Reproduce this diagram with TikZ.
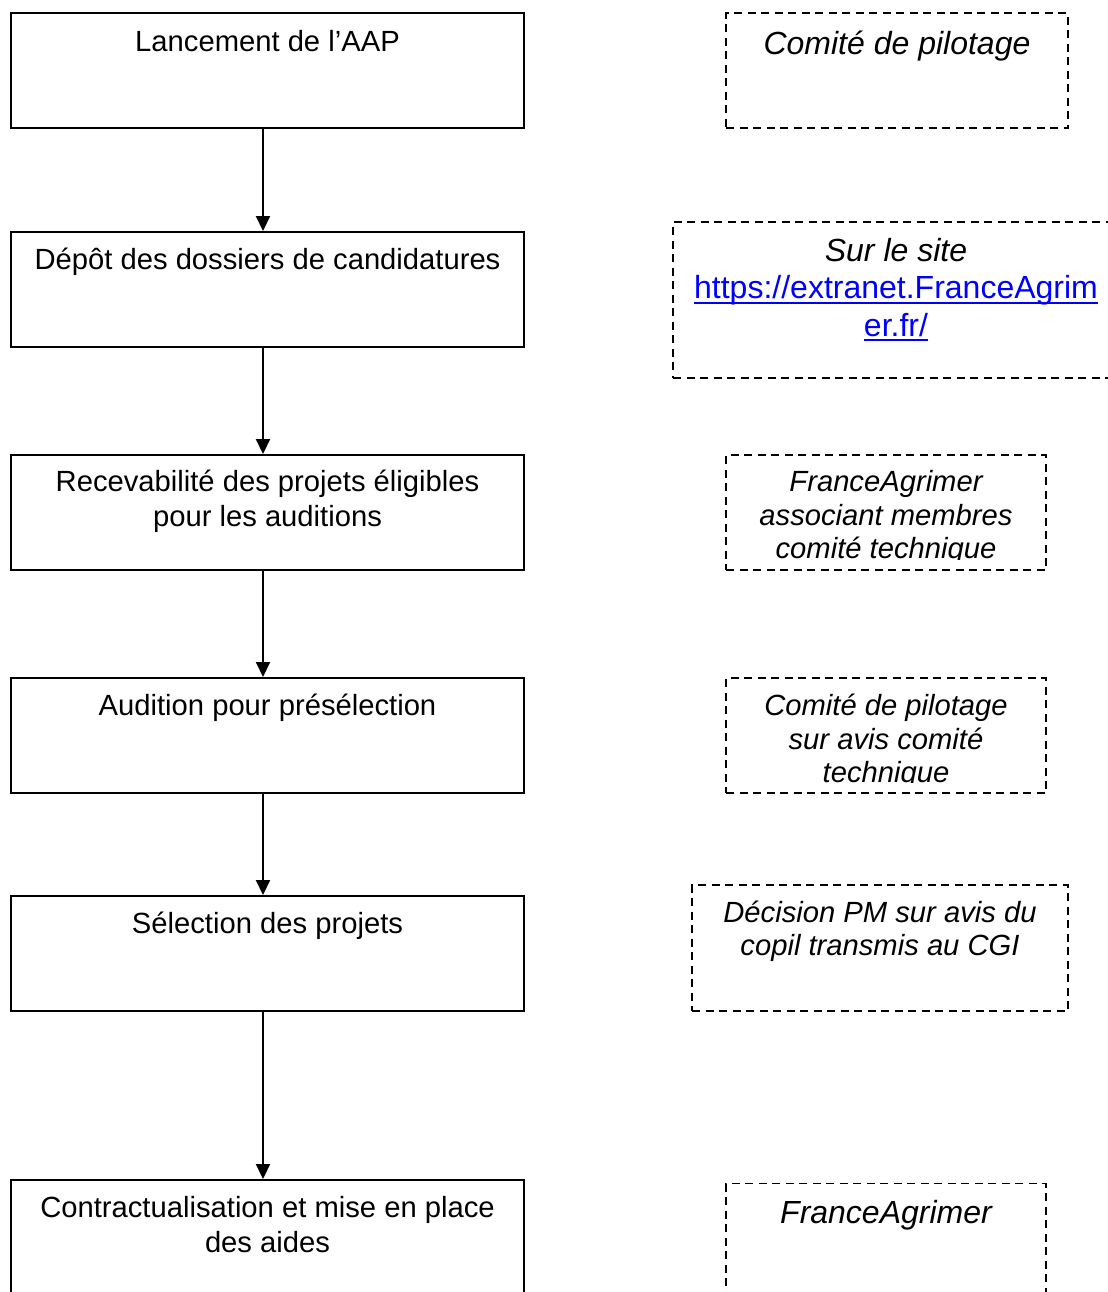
\documentclass[tikz,border=0pt]{standalone}
\usepackage{fontspec}
\setmainfont{Liberation Sans}
\usetikzlibrary{arrows.meta}
\newcommand{\linkul}[1]{\setbox0\hbox{#1}\rlap{\rule[-2.5pt]{\wd0}{1pt}}\box0}
\newcommand{\toplines}[1]{\begin{tabular}[t]{@{}c@{}}#1\end{tabular}}

\begin{document}
\begin{tikzpicture}
[x=0.5pt,y=-0.5pt,
  stepdecorate/.style={shape=rectangle,draw,line width=1pt,inner sep=0pt,%
    minimum width=256.5pt,minimum height=57.5pt},
  actordecorate/.style={shape=rectangle,draw,line width=0.9pt,inner sep=0pt,%
    dash pattern=on 4pt off 2.75pt},
  steptext/.style={anchor=base,inner sep=0pt,font=\fontsize{14.6pt}{17.5pt}\selectfont},
  actortext/.style={anchor=base,inner sep=0pt,font=\fontsize{14.6pt}{16.75pt}\selectfont\itshape},
  actorbigtext/.style={anchor=base,inner sep=0pt,font=\fontsize{16pt}{18.75pt}\selectfont\itshape},
  arrowdecorate/.style={-{Triangle[length=7.5pt,width=7pt]},line width=1pt}]
\clip (0,0) rectangle (1108,1292);
% steps
\node (s1) at (267.5,70.5) [stepdecorate] {};
\node (t1) at ([yshift=-19.5pt]s1.north) [steptext] {Lancement de l’AAP};
\node (s2) at (267.5,289.5) [stepdecorate] {};
\node (t2) at ([yshift=-19pt]s2.north) [steptext] {Dépôt des dossiers de candidatures};
\node (s3) at (267.5,512.5) [stepdecorate] {};
\node (t3) at ([yshift=-18.75pt]s3.north) [steptext]
  {\toplines{Recevabilité des projets éligibles\\pour les auditions}};
\node (s4) at (267.5,735.5) [stepdecorate] {};
\node (t4) at ([yshift=-19pt]s4.north) [steptext] {Audition pour présélection};
\node (s5) at (267.5,953.5) [stepdecorate] {};
\node (t5) at ([yshift=-19pt]s5.north) [steptext] {Sélection des projets};
\node (s6) at (267.5,1237.5) [stepdecorate] {};
\node (t6) at ([yshift=-19pt]s6.north) [steptext]
  {\toplines{Contractualisation et mise en place\\des aides}};
% who does it
\node (r1) at (897,70.5) [actordecorate,minimum width=171pt,minimum height=57.5pt] {};
\node (a1) at ([yshift=-21pt]r1.north) [actorbigtext] {Comité de pilotage};
\node (r2) at (896,300) [actordecorate,minimum width=223pt,minimum height=78pt] {};
\node (a2) at ([yshift=-20pt]r2.north) [actorbigtext]
  {\toplines{Sur le site\\\upshape\color{blue}\linkul{https://extranet.FranceAgrim}\\%
   \upshape\color{blue}\linkul{er.fr/}}};
\node (r3) at (886,512.5) [actordecorate,minimum width=160pt,minimum height=57.5pt] {};
\node (r4) at (886,735.5) [actordecorate,minimum width=160pt,minimum height=57.5pt] {};
\begin{scope}
\clip ([yshift=5.5pt]r3.south west) rectangle (r3.north east);
\node (a3) at ([yshift=-18.75pt]r3.north) [actortext]
  {\toplines{FranceAgrimer\\associant membres\\comité technique}};
\end{scope}
\begin{scope}
\clip ([yshift=5.5pt]r4.south west) rectangle (r4.north east);
\node (a4) at ([yshift=-19.25pt]r4.north) [actortext]
  {\toplines{Comité de pilotage\\sur avis comité\\technique}};
\end{scope}
\node (r5) at (880,948) [actordecorate,minimum width=188pt,minimum height=63pt] {};
\node (a5) at ([yshift=-19pt]r5.north) [actortext]
  {\toplines{Décision PM sur avis du\\copil transmis au CGI}};
\node (r6) at (886,1241.5) [actordecorate,minimum width=160pt,minimum height=58pt] {};
\node (a6) at ([yshift=-20.5pt]r6.north) [actorbigtext] {FranceAgrimer};
% arrows
\path
([xshift=-2.25pt]s1.south) edge[arrowdecorate] ([xshift=-2.25pt]s2.north)
([xshift=-2.25pt]s2.south) edge[arrowdecorate] ([xshift=-2.25pt]s3.north)
([xshift=-2.25pt]s3.south) edge[arrowdecorate] ([xshift=-2.25pt]s4.north)
([xshift=-2.25pt]s4.south) edge[arrowdecorate] ([xshift=-2.25pt]s5.north)
([xshift=-2.25pt]s5.south) edge[arrowdecorate] ([xshift=-2.25pt]s6.north);
\end{tikzpicture}
\end{document}
